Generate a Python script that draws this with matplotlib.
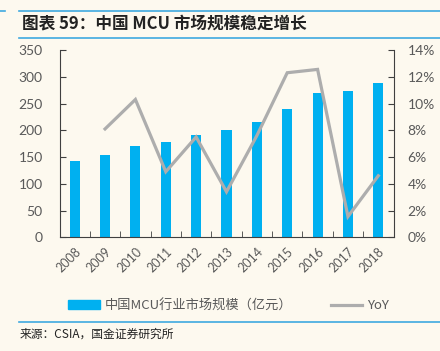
import matplotlib.pyplot as plt
from matplotlib.lines import Line2D
from matplotlib.patches import Patch

plt.rcParams['font.family'] = ['Lato', 'Noto Sans CJK SC', 'DejaVu Sans']

years = ["2008", "2009", "2010", "2011", "2012", "2013", "2014", "2015", "2016", "2017", "2018"]
market_size = [142, 154, 170, 179, 192, 200, 215, 240, 270, 274, 288]
yoy_years = years[1:]
yoy = [8.1, 10.3, 4.9, 7.5, 3.4, 7.6, 12.3, 12.55, 1.55, 4.6]

BG = '#FDF9EF'
BLUE = '#00B0F0'
GRAY = '#ADADAD'
TXT = '#595959'
CJK = ['Noto Sans CJK SC', 'DejaVu Sans']

fig = plt.figure(figsize=(4.4, 3.51), dpi=100, facecolor=BG)
ax = fig.add_axes([59.5 / 440, 1 - 237.3 / 351, 334 / 440, 187.3 / 351])
ax.set_facecolor(BG)
x = list(range(len(years)))
ax.bar(x, market_size, width=0.33, color=BLUE, zorder=2)
ax.set_xlim(-0.5, len(years) - 0.5)
ax.set_ylim(0, 350)
ax.set_yticks(range(0, 351, 50))
ax.set_xticks(x)
ax.set_xticklabels(years, rotation=45, ha='right', rotation_mode='anchor')
ax.set_xticks([i + 0.5 for i in x[:-1]], minor=True)
ax.tick_params(axis='x', which='major', length=0, pad=6, labelsize=9, colors=TXT)
ax.tick_params(axis='x', which='minor', direction='in', length=4, color='#404040')
ax.tick_params(axis='y', direction='in', length=4, labelsize=10, labelcolor=TXT, color='#404040', pad=12)
for s in ['top', 'right']:
    ax.spines[s].set_visible(False)
for s in ['left', 'bottom']:
    ax.spines[s].set_color('#404040')

ax2 = ax.twinx()
yx = [years.index(y) for y in yoy_years]
ax2.plot(yx, yoy, color=GRAY, lw=2.3, zorder=3, solid_joinstyle='miter')
ax2.set_ylim(0, 14)
ax2.set_yticks(range(0, 15, 2))
ax2.set_yticklabels([f"{v}%" for v in range(0, 15, 2)])
ax2.tick_params(axis='y', direction='in', length=4, labelsize=10, labelcolor=TXT, color='#404040', pad=10)
for s in ['top', 'left', 'bottom']:
    ax2.spines[s].set_visible(False)
ax2.spines['right'].set_color('#404040')

# title and rules
rule = '#3FA9E0'
fig.add_artist(Line2D([19 / 440, 1], [1 - 11 / 351] * 2, color=rule, lw=1.2))
fig.add_artist(Line2D([19 / 440, 1], [1 - 37.5 / 351] * 2, color=rule, lw=1.2))
fig.add_artist(Line2D([0, 5 / 440], [1 - 11 / 351] * 2, color=rule, lw=1.2))
fig.text(22 / 440, 1 - 24 / 351, "图表 59：中国 MCU 市场规模稳定增长", fontsize=12, fontweight='bold',
         color='#222222', va='center', family=CJK)
fig.add_artist(Line2D([19 / 440, 1], [1 - 322 / 351] * 2, color=rule, lw=1.2))
fig.text(20 / 440, 1 - 334 / 351, "来源：CSIA，国金证券研究所", fontsize=8.5, color='#222222',
         va='center', family=CJK)

handles = [Patch(color=BLUE), Line2D([], [], color=GRAY, lw=2.3)]
labels = ["中国MCU行业市场规模（亿元）", "YoY"]
fig.legend(handles, labels, loc='center', bbox_to_anchor=(228.5 / 440, 1 - 305.7 / 351), ncol=2,
           frameon=False, labelcolor=TXT, handlelength=2.4, handleheight=0.6, handletextpad=0.35,
           columnspacing=2.9, prop={'family': CJK, 'size': 9.5, 'weight': 'light'})

fig.savefig('out.png', dpi=100, facecolor=BG)
